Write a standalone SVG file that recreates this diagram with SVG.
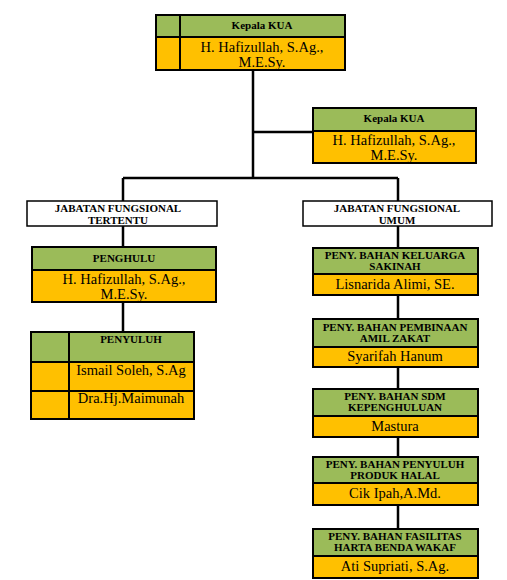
<svg xmlns="http://www.w3.org/2000/svg" width="507" height="580" viewBox="0 0 507 580">
<style>
.g{fill:#9BBB59;stroke:#000;stroke-width:2}
.o{fill:#FFC000;stroke:#000;stroke-width:2}
.w{fill:#fff;stroke:#000;stroke-width:1.5}
.ln{stroke:#000;stroke-width:2.5;fill:none}
text{font-family:'Liberation Serif','Times New Roman','DejaVu Serif',serif}
.h{font-weight:bold;font-size:11px;text-anchor:middle;fill:#000}
.n{font-size:14.5px;text-anchor:middle;fill:#000}
</style>
<rect width="507" height="580" fill="#fff"/>
<g id="connectors">
<path class="ln" d="M253 70V178M253 132H313M123 178H398M123 178V201M398 178V201M123 226V247M123 302V332M398 226V248M398 295V319M398 367V389M398 437V457M398 505V529"/>
</g>
<g id="kepala-kua-top">
<rect class="g" x="156" y="15" width="189" height="22"/>
<rect class="o" x="156" y="37" width="189" height="33"/>
<line x1="180" y1="15" x2="180" y2="70" stroke="#000" stroke-width="2"/>
<text class="h" x="262" y="29">Kepala KUA</text>
<text class="n" x="262" y="52">H. Hafizullah, S.Ag.,</text>
<text class="n" x="262" y="67">M.E.Sy.</text>
</g>
<g id="kepala-kua-2">
<rect class="g" x="313" y="108" width="163" height="23"/>
<rect class="o" x="313" y="131" width="163" height="32"/>
<text class="h" x="394" y="122">Kepala KUA</text>
<text class="n" x="394" y="145">H. Hafizullah, S.Ag.,</text>
<text class="n" x="394" y="160">M.E.Sy.</text>
</g>
<g id="jf-tertentu">
<rect class="w" x="27" y="201" width="190" height="25"/>
<text class="h" x="118" y="212">JABATAN FUNGSIONAL</text>
<text class="h" x="118" y="223.5">TERTENTU</text>
</g>
<g id="penghulu">
<rect class="g" x="32" y="247" width="184" height="23"/>
<rect class="o" x="32" y="270" width="184" height="32"/>
<text class="h" x="124" y="262">PENGHULU</text>
<text class="n" x="124" y="284">H. Hafizullah, S.Ag.,</text>
<text class="n" x="124" y="299">M.E.Sy.</text>
</g>
<g id="penyuluh">
<rect class="g" x="31" y="332" width="163" height="30"/>
<rect class="o" x="31" y="362" width="163" height="29"/>
<rect class="o" x="31" y="391" width="163" height="28"/>
<line x1="69" y1="332" x2="69" y2="419" stroke="#000" stroke-width="2"/>
<text class="h" x="131" y="343">PENYULUH</text>
<text class="n" x="131" y="375">Ismail Soleh, S.Ag</text>
<text class="n" x="131" y="403">Dra.Hj.Maimunah</text>
</g>
<g id="jf-umum">
<rect class="w" x="303" y="201" width="189" height="25"/>
<text class="h" x="397" y="212">JABATAN FUNGSIONAL</text>
<text class="h" x="397" y="223.5">UMUM</text>
</g>
<g id="keluarga-sakinah">
<rect class="g" x="313" y="248" width="165" height="26"/>
<rect class="o" x="313" y="274" width="165" height="21"/>
<text class="h" x="395" y="259">PENY. BAHAN KELUARGA</text>
<text class="h" x="395" y="270">SAKINAH</text>
<text class="n" x="395" y="289">Lisnarida Alimi, SE.</text>
</g>
<g id="amil-zakat">
<rect class="g" x="313" y="319" width="165" height="28"/>
<rect class="o" x="313" y="347" width="165" height="20"/>
<text class="h" x="395" y="331">PENY. BAHAN PEMBINAAN</text>
<text class="h" x="395" y="342">AMIL ZAKAT</text>
<text class="n" x="395" y="361">Syarifah Hanum</text>
</g>
<g id="sdm">
<rect class="g" x="313" y="389" width="165" height="27"/>
<rect class="o" x="313" y="416" width="165" height="21"/>
<text class="h" x="395" y="400">PENY. BAHAN SDM</text>
<text class="h" x="395" y="411">KEPENGHULUAN</text>
<text class="n" x="395" y="431">Mastura</text>
</g>
<g id="produk-halal">
<rect class="g" x="313" y="457" width="165" height="26"/>
<rect class="o" x="313" y="483" width="165" height="22"/>
<text class="h" x="395" y="468">PENY. BAHAN PENYULUH</text>
<text class="h" x="395" y="479">PRODUK HALAL</text>
<text class="n" x="395" y="498">Cik Ipah,A.Md.</text>
</g>
<g id="wakaf">
<rect class="g" x="313" y="529" width="165" height="27"/>
<rect class="o" x="313" y="556" width="165" height="22"/>
<text class="h" x="395" y="540">PENY. BAHAN FASILITAS</text>
<text class="h" x="395" y="551">HARTA BENDA WAKAF</text>
<text class="n" x="395" y="571">Ati Supriati, S.Ag.</text>
</g>
</svg>
